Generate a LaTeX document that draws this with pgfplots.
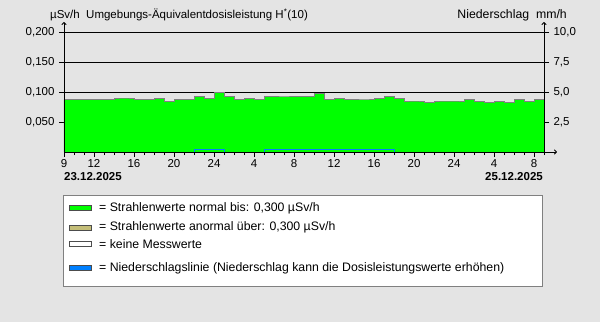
\documentclass[border=0pt]{standalone}
\usepackage{pgfplots}
\pgfplotsset{compat=1.18}
\usetikzlibrary{arrows.meta}
\usepackage{fontspec}
\setmainfont{Liberation Sans}
\definecolor{bg}{RGB}{228,228,228}
\definecolor{radgreen}{RGB}{0,255,0}
\definecolor{olivek}{RGB}{196,190,120}
\definecolor{rainblue}{RGB}{0,128,255}
\pgfplotstableread{
h dose
0 0.0867
1 0.0883
2 0.0883
3 0.0883
4 0.0867
5 0.0900
6 0.0900
7 0.0883
8 0.0867
9 0.0900
10 0.0850
11 0.0867
12 0.0883
13 0.0917
14 0.0900
15 0.1000
16 0.0917
17 0.0883
18 0.0900
19 0.0883
20 0.0933
21 0.0917
22 0.0917
23 0.0933
24 0.0933
25 0.0967
26 0.0883
27 0.0900
28 0.0883
29 0.0867
30 0.0867
31 0.0900
32 0.0917
33 0.0900
34 0.0850
35 0.0850
36 0.0833
37 0.0850
38 0.0850
39 0.0850
40 0.0867
41 0.0850
42 0.0833
43 0.0850
44 0.0833
45 0.0867
46 0.0850
47 0.0867
48 0.0867
}\dosetable
\pgfplotstableread{
h rain
0 0
13 0.25
16 0
20 0.25
33 0
48 0
}\raintable
\begin{document}
\begin{tikzpicture}[x=1pt,y=1pt,font=\fontsize{11.5}{13}\selectfont]
\fill[bg] (0,0) rectangle (600,322);
\begin{axis}[at={(64pt,170pt)}, anchor=south west, width=480pt, height=120pt, scale only axis,
  xmin=0, xmax=48, ymin=0, ymax=0.2,
  axis line style={draw=none},
  xtick={0,3,7,11,15,19,23,27,31,35,39,43,47},
  xticklabels={9,12,16,20,24,4,8,12,16,20,24,4,8},
  minor xtick={0,1,...,48},
  xtick pos=bottom, ytick pos=left,
  tick align=outside, major tick length=3pt, minor tick length=3pt,
  every tick/.style={black, line width=0.8pt},
  ytick={0.05,0.1,0.15,0.2},
  yticklabels={{0,050},{0,100},{0,150},{0,200}},
  ymajorgrids, major grid style={black, line width=1pt},
  /pgf/number format/assume math mode=true,
  ticklabel style={font=\fontsize{11.5}{13}\selectfont},
  yticklabel style={xshift=-1pt},
  xticklabel style={yshift=1pt},
  major tick length=5pt,
]
\addplot[const plot, fill=radgreen, draw=none] table[x=h,y=dose] {\dosetable} \closedcycle;
\addplot[const plot, draw=gray, line width=1pt] table[x=h,y=dose] {\dosetable};
\end{axis}
\begin{axis}[at={(64pt,170pt)}, anchor=south west, width=480pt, height=120pt, scale only axis,
  xmin=0, xmax=48, ymin=0, ymax=10,
  axis line style={draw=none},
  xtick=\empty,
  ytick={2.5,5,7.5,10},
  yticklabels={{2,5},{5,0},{7,5},{10,0}},
  ytick pos=right, tick align=outside, major tick length=5pt,
  every tick/.style={black, line width=0.8pt},
  /pgf/number format/assume math mode=true,
  ticklabel style={font=\fontsize{11.5}{13}\selectfont},
  yticklabel style={xshift=1pt},
]
\addplot[const plot, draw=rainblue, line width=1pt] table[x=h,y=rain] {\raintable};
\end{axis}
\draw[black, line width=1pt, -{To[length=3pt,width=5pt]}] (64,170) -- (64,300);
\draw[black, line width=1pt, -{To[length=3pt,width=5pt]}] (544,170) -- (544,300);
\draw[black, line width=1pt, -{To[length=3pt,width=5pt]}] (64,170) -- (557,170);
\node[anchor=base west, inner sep=0] at (50,303) {µSv/h\ \ Umgebungs-Äquivalentdosisleistung H\textsuperscript{*}(10)};
\node[anchor=base east, inner sep=0, font=\fontsize{12.3}{14}\selectfont] at (567,303) {Niederschlag\ \ mm/h};
\node[anchor=base west, inner sep=0] at (64,142) {\bfseries 23.12.2025};
\node[anchor=base east, inner sep=0] at (543,142) {\bfseries 25.12.2025};
\begin{scope}[font=\fontsize{12.3}{14}\selectfont]
\draw[gray, fill=white] (63,127) rectangle (542,36);
\draw[black!70, fill=radgreen] (69,111.5) rectangle (91,116.5);
\node[anchor=west, inner sep=0] at (99,114) {= Strahlenwerte normal bis: 0,300 µSv/h};
\draw[black!70, fill=olivek] (69,92) rectangle (91,97);
\node[anchor=west, inner sep=0] at (99,94.5) {= Strahlenwerte anormal über: 0,300 µSv/h};
\draw[black!70, fill=white] (69,75.5) rectangle (91,80.5);
\node[anchor=west, inner sep=0] at (99,78) {= keine Messwerte};
\draw[black!70, fill=rainblue] (69,51.5) rectangle (91,56.5);
\node[anchor=west, inner sep=0] at (99,54) {= Niederschlagslinie (Niederschlag kann die Dosisleistungswerte erhöhen)};
\end{scope}
\end{tikzpicture}
\end{document}
